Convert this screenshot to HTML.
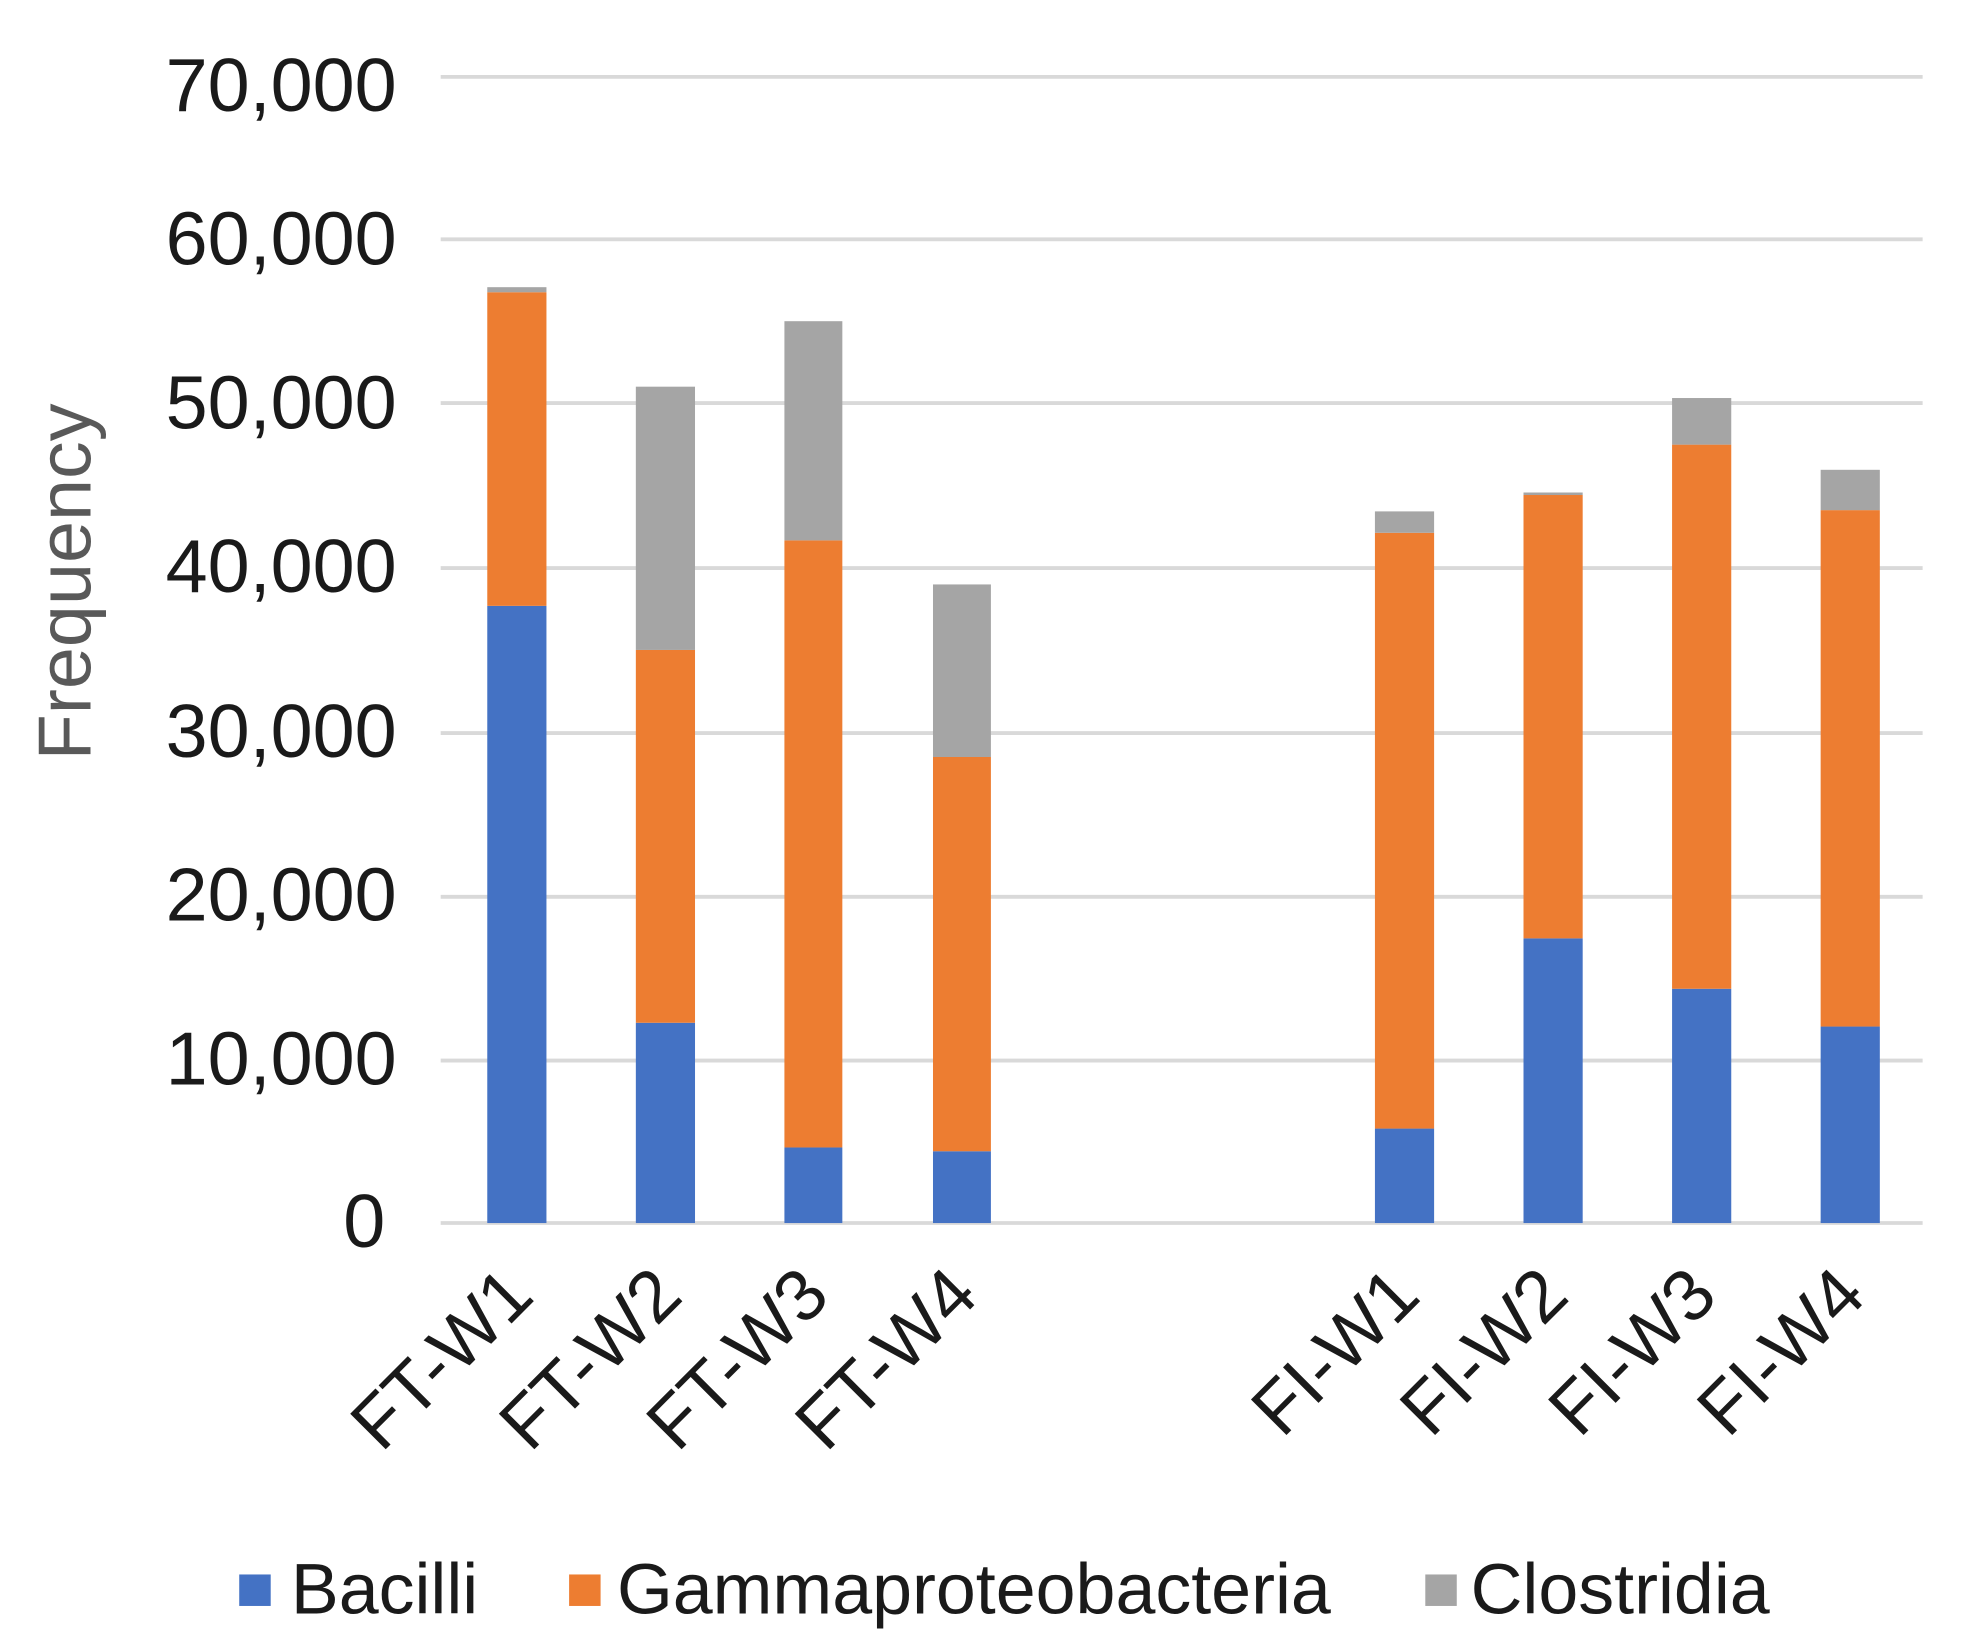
<!DOCTYPE html>
<html><head><meta charset="utf-8"><style>
html,body{margin:0;padding:0;background:#fff;}
svg{display:block;}
text{font-family:"Liberation Sans","DejaVu Sans",sans-serif;}
</style></head><body>
<svg width="1973" height="1645" viewBox="0 0 1567 1306" preserveAspectRatio="none" xmlns="http://www.w3.org/2000/svg">
<rect width="1567" height="1306" fill="#fff"/>
<g stroke="#d9d9d9" stroke-width="3">
<line x1="350" x2="1527" y1="61" y2="61"/>
<line x1="350" x2="1527" y1="190" y2="190"/>
<line x1="350" x2="1527" y1="320" y2="320"/>
<line x1="350" x2="1527" y1="451" y2="451"/>
<line x1="350" x2="1527" y1="582" y2="582"/>
<line x1="350" x2="1527" y1="712" y2="712"/>
<line x1="350" x2="1527" y1="842" y2="842"/>
<line x1="350" x2="1527" y1="971" y2="971"/>
</g>
<g font-size="60" fill="#1a1a1a" text-anchor="end">
<text x="315" y="88">70,000</text>
<text x="315" y="210">60,000</text>
<text x="315" y="340">50,000</text>
<text x="315" y="470">40,000</text>
<text x="315" y="601">30,000</text>
<text x="315" y="731">20,000</text>
<text x="315" y="861">10,000</text>
<text x="306" y="990">0</text>
</g>
<text transform="translate(72,462) rotate(-90)" font-size="60" fill="#595959" text-anchor="middle">Frequency</text>
<g>
<rect x="387" y="481" width="47" height="490" fill="#4472c4"/>
<rect x="387" y="232" width="47" height="249" fill="#ed7d31"/>
<rect x="387" y="228" width="47" height="4" fill="#a5a5a5"/>
<rect x="505" y="812" width="47" height="159" fill="#4472c4"/>
<rect x="505" y="516" width="47" height="296" fill="#ed7d31"/>
<rect x="505" y="307" width="47" height="209" fill="#a5a5a5"/>
<rect x="623" y="911" width="46" height="60" fill="#4472c4"/>
<rect x="623" y="429" width="46" height="482" fill="#ed7d31"/>
<rect x="623" y="255" width="46" height="174" fill="#a5a5a5"/>
<rect x="741" y="914" width="46" height="57" fill="#4472c4"/>
<rect x="741" y="601" width="46" height="313" fill="#ed7d31"/>
<rect x="741" y="464" width="46" height="137" fill="#a5a5a5"/>
<rect x="1092" y="896" width="47" height="75" fill="#4472c4"/>
<rect x="1092" y="423" width="47" height="473" fill="#ed7d31"/>
<rect x="1092" y="406" width="47" height="17" fill="#a5a5a5"/>
<rect x="1210" y="745" width="47" height="226" fill="#4472c4"/>
<rect x="1210" y="393" width="47" height="352" fill="#ed7d31"/>
<rect x="1210" y="391" width="47" height="2" fill="#a5a5a5"/>
<rect x="1328" y="785" width="47" height="186" fill="#4472c4"/>
<rect x="1328" y="353" width="47" height="432" fill="#ed7d31"/>
<rect x="1328" y="316" width="47" height="37" fill="#a5a5a5"/>
<rect x="1446" y="815" width="47" height="156" fill="#4472c4"/>
<rect x="1446" y="405" width="47" height="410" fill="#ed7d31"/>
<rect x="1446" y="373" width="47" height="32" fill="#a5a5a5"/>
</g>
<g font-size="58" fill="#1a1a1a" text-anchor="end">
<text transform="translate(426,1031) rotate(-45)">FT-W1</text>
<text transform="translate(544,1031) rotate(-45)">FT-W2</text>
<text transform="translate(661,1031) rotate(-45)">FT-W3</text>
<text transform="translate(779,1031) rotate(-45)">FT-W4</text>
<text transform="translate(1130,1031) rotate(-45)">FI-W1</text>
<text transform="translate(1248,1031) rotate(-45)">FI-W2</text>
<text transform="translate(1366,1031) rotate(-45)">FI-W3</text>
<text transform="translate(1484,1031) rotate(-45)">FI-W4</text>
</g>
<g font-size="57" fill="#1a1a1a">
<rect x="190" y="1250" width="25" height="25" fill="#4472c4"/>
<text x="231" y="1281">Bacilli</text>
<rect x="452" y="1250" width="25" height="25" fill="#ed7d31"/>
<text x="490" y="1281">Gammaproteobacteria</text>
<rect x="1132" y="1250" width="25" height="25" fill="#a5a5a5"/>
<text x="1168" y="1281">Clostridia</text>
</g>
</svg>
</body></html>
